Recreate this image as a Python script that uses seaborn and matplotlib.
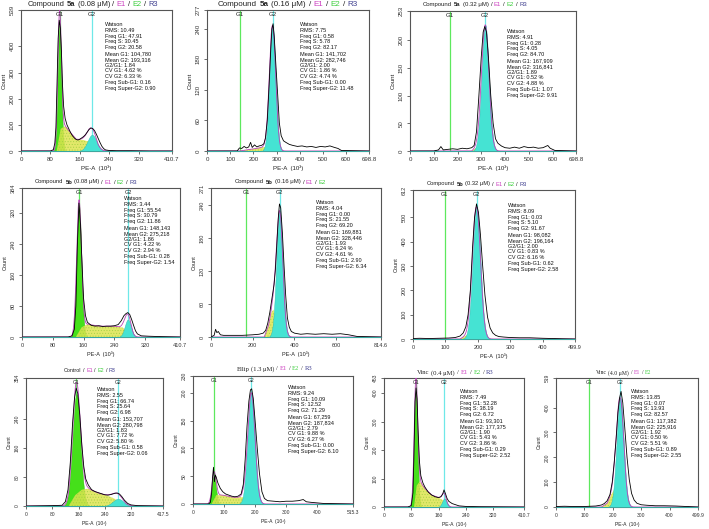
import numpy as np
import pandas as pd
import seaborn as sns
import matplotlib
matplotlib.use("Agg")
import matplotlib.pyplot as plt

# ------------------------------------------------------------------ data
title_parts = [
    [("Compound", "n"), ("5a", "b"), ("(0.08 μM)", "n"), ("/", "n"), ("E1", "e1"), ("/", "n"), ("E2", "e2"), ("/", "n"), ("R3", "r3")],
    [("Compound", "n"), ("5a", "b"), ("(0.16 μM)", "n"), ("/", "n"), ("E1", "e1"), ("/", "n"), ("E2", "e2"), ("/", "n"), ("R3", "r3")],
    [("Compound", "n"), ("5a", "b"), ("(0.32 μM)", "n"), ("/", "n"), ("E1", "e1"), ("/", "n"), ("E2", "e2"), ("/", "n"), ("R3", "r3")],
    [("Compound", "n"), ("5b", "b"), ("(0.08 μM)", "n"), ("/", "n"), ("E1", "e1"), ("/", "n"), ("E2", "e2"), ("/", "n"), ("R3", "r3")],
    [("Compound", "n"), ("5b", "b"), ("(0.16 μM)", "n"), ("/", "n"), ("E1", "e1"), ("/", "n"), ("E2", "e2")],
    [("Compound", "n"), ("5b", "b"), ("(0.32 μM)", "n"), ("/", "n"), ("E1", "e1"), ("/", "n"), ("E2", "e2"), ("/", "n"), ("R3", "r3")],
    [("Control", "n"), ("/", "n"), ("E1", "e1"), ("/", "n"), ("E2", "e2"), ("/", "n"), ("R3", "r3")],
    [("Ellip", "n"), ("(1.3 μM)", "n"), ("/", "n"), ("E1", "e1"), ("/", "n"), ("E2", "e2"), ("/", "n"), ("R3", "r3")],
    [("Vinc", "n"), ("(0.4 μM)", "n"), ("/", "n"), ("E1", "e1"), ("/", "n"), ("E2", "e2"), ("/", "n"), ("R3", "r3")],
    [("Vinc", "n"), ("(4.0 μM)", "n"), ("/", "n"), ("E1", "e1"), ("/", "n"), ("E2", "e2")],
]

x_max = [410.7, 698.8, 698.8, 410.7, 814.6, 499.9, 417.5, 515.3, 410.7, 499.9]
y_max = [539, 277, 253, 384, 271, 612, 354, 230, 453, 519]
x_ticks = [
    [0, 80, 160, 240, 320, 410.7],
    [0, 100, 200, 300, 400, 500, 600, 698.8],
    [0, 100, 200, 300, 400, 500, 600, 698.8],
    [0, 80, 160, 240, 320, 410.7],
    [0, 200, 400, 600, 814.6],
    [0, 100, 200, 300, 400, 499.9],
    [0, 80, 160, 240, 320, 417.5],
    [0, 100, 200, 300, 400, 515.3],
    [0, 80, 160, 240, 320, 410.7],
    [0, 100, 200, 300, 400, 499.9],
]
y_ticks = [
    [0, 100, 200, 300, 400, 539],
    [0, 60, 120, 180, 240, 277],
    [0, 50, 100, 150, 200, 253],
    [0, 80, 160, 240, 320, 384],
    [0, 60, 120, 180, 240, 271],
    [0, 100, 200, 300, 400, 500, 612],
    [0, 80, 160, 240, 354],
    [0, 50, 100, 150, 200, 230],
    [0, 100, 200, 300, 400, 453],
    [0, 100, 200, 300, 400, 519],
]

# Watson model statistics
rms = [10.49, 7.75, 4.91, 3.44, 4.04, 8.09, 2.55, 9.24, 7.49, 13.85]
freq_g1 = [47.91, 0.58, 0.28, 55.54, 0.00, 0.03, 66.74, 10.09, 52.28, 0.07]
freq_s = [30.45, 5.78, 4.05, 30.79, 21.55, 5.10, 25.64, 12.52, 38.19, 13.93]
freq_g2 = [20.58, 82.17, 84.70, 11.86, 69.20, 91.67, 6.98, 71.29, 6.72, 82.57]
mean_g1 = [104780, 141702, 167909, 148143, 169881, 98082, 153707, 67259, 93301, 117382]
mean_g2 = [193316, 282746, 316841, 275218, 328446, 196164, 280798, 187834, 177375, 225916]
g2_g1 = [1.84, 2.00, 1.89, 1.86, 1.93, 2.00, 1.83, 2.79, 1.90, 1.92]
cv_g1 = [4.62, 1.86, 0.52, 4.22, 6.24, 0.83, 7.72, 9.88, 5.43, 0.50]
cv_g2 = [6.33, 4.74, 4.88, 2.94, 4.61, 6.16, 5.80, 6.27, 3.86, 5.51]
freq_sub_g1 = [0.16, 0.00, 1.07, 0.28, 2.90, 0.62, 0.58, 0.00, 0.29, 0.89]
freq_super_g2 = [0.90, 11.48, 9.91, 1.54, 6.34, 2.58, 0.06, 6.10, 2.52, 2.55]
g1_peak = [480, 0, 0, 340, 0, 0, 310, 50, 405, 0]
g2_peak = [62, 245, 228, 45, 230, 540, 20, 200, 30, 440]

# measured DNA histograms (PE-A in 10^3, counts)
p1_x = [0, 80, 88, 92, 95, 98, 101, 104, 107, 110, 113, 116, 120, 125, 130, 135, 140, 145, 150, 155, 160, 165, 170, 175, 180, 185, 190, 195, 200, 205, 210, 215, 220, 225, 230, 240, 260, 300, 350, 410.7]
p1_count = [0, 0, 5, 30, 90, 260, 430, 500, 470, 380, 250, 170, 125, 100, 85, 70, 58, 50, 44, 42, 45, 50, 55, 62, 72, 82, 88, 86, 78, 64, 48, 32, 18, 9, 4, 2, 1, 1, 0, 0]
p1_s_x = [97, 108, 120, 135, 150, 170, 185, 200, 210]
p1_s_count = [0, 85, 95, 70, 45, 42, 35, 15, 0]

p2_x = [0, 130, 140, 150, 160, 170, 180, 188, 195, 205, 215, 225, 235, 245, 252, 260, 268, 275, 280, 285, 290, 297, 305, 312, 320, 330, 340, 355, 370, 390, 410, 430, 450, 470, 490, 510, 530, 550, 565, 580, 698.8]
p2_count = [0, 0, 6, 5, 9, 6, 8, 17, 7, 12, 8, 10, 11, 14, 25, 60, 130, 200, 240, 250, 225, 170, 110, 55, 30, 20, 17, 13, 11, 9, 10, 8, 9, 7, 9, 8, 10, 7, 5, 1, 0]
p2_s_x = [140, 200, 250, 270, 285]
p2_s_count = [0, 4, 8, 10, 0]

p3_x = [0, 100, 120, 130, 140, 160, 180, 200, 220, 240, 260, 270, 280, 290, 300, 308, 315, 322, 330, 340, 350, 360, 370, 385, 400, 420, 440, 460, 480, 500, 520, 540, 560, 580, 590, 610, 698.8]
p3_count = [0, 0, 2, 8, 2, 3, 4, 3, 5, 4, 6, 10, 35, 100, 170, 215, 225, 215, 170, 100, 50, 22, 14, 9, 6, 5, 7, 5, 8, 6, 7, 5, 6, 10, 5, 1, 0]
p3_s_x = [260, 285, 300, 312]
p3_s_count = [0, 8, 10, 0]

p4_x = [0, 120, 130, 136, 140, 144, 148, 152, 156, 160, 165, 170, 180, 190, 200, 210, 220, 230, 240, 250, 258, 265, 270, 275, 280, 285, 290, 295, 300, 310, 330, 360, 410.7]
p4_count = [0, 0, 3, 20, 80, 240, 345, 290, 190, 100, 55, 38, 30, 28, 29, 27, 28, 28, 29, 32, 42, 55, 60, 63, 58, 45, 30, 16, 8, 3, 2, 1, 0]
p4_s_x = [140, 155, 170, 200, 240, 262, 280, 290]
p4_s_count = [0, 25, 33, 28, 28, 24, 10, 0]

p5_x = [0, 15, 22, 28, 35, 45, 60, 100, 150, 200, 230, 250, 262, 272, 282, 290, 296, 302, 308, 315, 322, 328, 334, 342, 350, 358, 366, 375, 385, 400, 430, 460, 500, 540, 580, 620, 660, 700, 814.6]
p5_count = [0, 3, 14, 8, 10, 4, 3, 3, 3, 4, 5, 7, 12, 25, 45, 65, 80, 95, 120, 165, 215, 242, 235, 190, 130, 75, 35, 18, 10, 7, 5, 6, 5, 6, 5, 6, 4, 1, 0]
p5_s_x = [255, 275, 290, 300, 310, 322]
p5_s_count = [0, 20, 45, 50, 30, 0]

p6_x = [0, 20, 50, 80, 110, 130, 145, 155, 163, 170, 177, 184, 190, 196, 202, 208, 215, 222, 230, 238, 246, 255, 265, 280, 300, 330, 360, 400, 430, 460, 499.9]
p6_count = [2, 3, 2, 3, 4, 6, 12, 25, 50, 100, 200, 380, 500, 555, 520, 430, 300, 180, 90, 45, 25, 15, 10, 8, 6, 5, 5, 3, 2, 1, 0]
p6_s_x = [145, 165, 178, 188, 196]
p6_s_count = [0, 15, 35, 30, 0]

p7_x = [0, 80, 110, 120, 128, 135, 142, 148, 153, 158, 164, 170, 176, 182, 190, 200, 210, 220, 230, 240, 250, 260, 270, 278, 285, 292, 300, 310, 320, 340, 417.5]
p7_count = [0, 1, 2, 12, 45, 120, 230, 300, 326, 310, 250, 170, 110, 75, 58, 45, 40, 37, 34, 31, 30, 32, 35, 36, 33, 26, 16, 7, 3, 1, 0]
p7_s_x = [130, 150, 170, 190, 220, 250, 270, 290, 305]
p7_s_count = [0, 30, 45, 48, 36, 28, 20, 8, 0]

p8_x = [0, 50, 56, 60, 63, 66, 69, 72, 75, 80, 88, 96, 105, 115, 125, 135, 145, 155, 162, 168, 174, 180, 185, 189, 194, 200, 207, 214, 222, 230, 240, 260, 280, 300, 320, 340, 355, 365, 380, 400, 420, 515.3]
p8_count = [0, 0, 3, 20, 48, 66, 40, 52, 48, 38, 28, 22, 18, 16, 14, 13, 14, 18, 35, 80, 140, 185, 205, 207, 190, 150, 100, 55, 22, 10, 6, 5, 4, 5, 5, 6, 8, 4, 3, 2, 1, 0]
p8_s_x = [60, 75, 95, 130, 160, 180]
p8_s_count = [0, 16, 16, 12, 12, 0]

p9_x = [0, 70, 80, 85, 88, 91, 94, 97, 100, 104, 108, 114, 120, 130, 140, 150, 160, 167, 172, 176, 180, 185, 190, 200, 210, 220, 240, 280, 410.7]
p9_count = [0, 0, 5, 50, 190, 370, 418, 380, 270, 160, 110, 85, 70, 52, 42, 36, 33, 36, 45, 60, 48, 30, 20, 12, 8, 4, 2, 1, 0]
p9_s_x = [88, 96, 105, 120, 140, 160, 175, 185]
p9_s_count = [0, 75, 90, 65, 42, 33, 22, 0]

p10_x = [0, 30, 60, 100, 140, 160, 170, 180, 190, 198, 205, 212, 218, 224, 229, 235, 242, 250, 258, 266, 275, 285, 300, 320, 350, 380, 420, 460, 499.9]
p10_count = [2, 3, 2, 2, 4, 8, 14, 25, 50, 100, 180, 280, 380, 440, 465, 420, 320, 200, 110, 55, 28, 15, 9, 7, 5, 5, 4, 2, 0]
p10_s_x = [160, 180, 195, 205, 215, 225]
p10_s_count = [0, 15, 50, 70, 40, 0]

hist_x = [p1_x, p2_x, p3_x, p4_x, p5_x, p6_x, p7_x, p8_x, p9_x, p10_x]
hist_count = [p1_count, p2_count, p3_count, p4_count, p5_count, p6_count, p7_count, p8_count, p9_count, p10_count]
s_x = [p1_s_x, p2_s_x, p3_s_x, p4_s_x, p5_s_x, p6_s_x, p7_s_x, p8_s_x, p9_s_x, p10_s_x]
s_count = [p1_s_count, p2_s_count, p3_s_count, p4_s_count, p5_s_count, p6_s_count, p7_s_count, p8_s_count, p9_s_count, p10_s_count]

# ------------------------------------------------------------------ layout (pixels)
W, H = 709, 529
frames = [(21, 10, 172, 151), (207, 10, 369, 151), (410, 11, 576, 151),
          (22, 188, 180, 337), (211, 188, 381, 337), (413, 190, 575, 339),
          (26, 378, 163, 506), (193, 376, 353, 504), (384, 378, 524, 507), (556, 378, 698, 507)]
text_pos = [(105, 22), (300, 22), (507, 29), (124, 196), (316, 200), (508, 203),
            (97, 387), (288, 385), (460, 389), (631, 389)]
title_box = [(28, 158, 4.5), (218, 358, 4.5), (423, 527, 4.5), (35, 137, 182), (235, 326, 182),
             (427, 527, 184), (64, 116, 371), (237, 312, 369), (417, 494, 373), (596, 651, 373)]
title_serif = [False] * 7 + [True] * 3
tick_size = [4.4] * 3 + [4.0] * 3 + [3.6] * 4

GREEN = "#45e01a"
G1_LINE = "#5ee85e"
CYAN = "#45e3d3"
G2_LINE = "#6fe8e8"
YELLOW = "#dde450"
MAGENTA = "#b844b8"
role_color = {"n": "#222222", "b": "#222222", "e1": "#cc3fc0", "e2": "#3fcf3f", "r3": "#3f3f8f"}

sns.set_theme(style="ticks")
plt.rcParams["font.family"] = ["Liberation Sans", "DejaVu Sans"]
plt.rcParams["hatch.linewidth"] = 0.4

fig = plt.figure(figsize=(W / 100, H / 100), dpi=100)
fig.canvas.draw()
renderer = fig.canvas.get_renderer()


def text_width(s, size, weight, family):
    t = fig.text(0.5, 0.5, s, fontsize=size, fontweight=weight, family=family)
    w = t.get_window_extent(renderer=renderer).width
    t.remove()
    return w


# warm up font caches
for fam in (["Liberation Sans", "DejaVu Sans"], ["Liberation Serif", "DejaVu Serif"]):
    for wt in ("normal", "bold"):
        text_width("Compound 5a (0.08 μM)", 5.0, wt, fam)


def rich_title(parts, x0, x1, yc, serif):
    fam = ["Liberation Serif", "DejaVu Serif"] if serif else ["Liberation Sans", "DejaVu Sans"]
    base = 5.0
    widths = [text_width(s, base, "bold" if r == "b" else "normal", fam) for s, r in parts]
    sp = text_width("a a", base, "normal", fam) - text_width("aa", base, "normal", fam)
    total = sum(widths) + sp * (len(parts) - 1)
    k = (x1 - x0) / total
    size = base * k
    x = x0
    for (s, r), w in zip(parts, widths):
        fig.text(x / W, 1 - yc / H, s, fontsize=size, fontweight="bold" if r == "b" else "normal",
                 family=fam, color=role_color[r], ha="left", va="center")
        x += (w + sp) * k


def fmt_tick(v):
    return "{:g}".format(v)


for i in range(10):
    l, t, r, b = frames[i]
    ax = fig.add_axes([l / W, 1 - b / H, (r - l) / W, (b - t) / H])
    ax.set_xlim(0, x_max[i])
    ax.set_ylim(0, y_max[i])

    xs = np.linspace(0, x_max[i], 900)
    m1 = mean_g1[i] / 1000.0
    m2 = mean_g2[i] / 1000.0
    sd1 = m1 * cv_g1[i] / 100.0
    sd2 = m2 * cv_g2[i] / 100.0
    g1 = g1_peak[i] * np.exp(-0.5 * ((xs - m1) / sd1) ** 2)
    g2 = g2_peak[i] * np.exp(-0.5 * ((xs - m2) / sd2) ** 2)
    sph = np.interp(xs, s_x[i], s_count[i], left=0, right=0)

    ax.axvline(m1, color=G1_LINE, lw=0.9, zorder=1)
    ax.axvline(m2, color=G2_LINE, lw=0.9, zorder=1)
    if g1_peak[i] > 0:
        ax.fill_between(xs, 0, g1, color=GREEN, lw=0.3, edgecolor="#2fb010", zorder=2)
    ax.fill_between(s_x[i], 0, s_count[i], facecolor=YELLOW, edgecolor="#9fd040",
                    hatch="......", lw=0, alpha=0.85, zorder=3)
    ax.fill_between(xs, 0, g2, color=CYAN, lw=0.3, edgecolor="#30b8b0", zorder=4)

    model = pd.DataFrame({"x": xs, "count": g1 + g2 + sph})
    sns.lineplot(data=model, x="x", y="count", ax=ax, color=MAGENTA, lw=0.6, zorder=5)
    data = pd.DataFrame({"x": hist_x[i], "count": hist_count[i]})
    sns.lineplot(data=data, x="x", y="count", ax=ax, color="black", lw=0.6, zorder=6)

    ts = tick_size[i]
    ax.text(m1, y_max[i] * 0.985, "G1", ha="center", va="top", fontsize=ts, color="#222", zorder=7)
    ax.text(m2, y_max[i] * 0.985, "G2", ha="center", va="top", fontsize=ts, color="#222", zorder=7)

    ax.set_xticks(x_ticks[i])
    ax.set_xticklabels([fmt_tick(v) for v in x_ticks[i]])
    ax.set_yticks(y_ticks[i])
    ax.set_yticklabels([fmt_tick(v) for v in y_ticks[i]], rotation=90, va="center")
    ax.tick_params(axis="both", direction="out", length=2, width=0.5, pad=2.5,
                   labelsize=ts, colors="#333333")
    ax.set_xlabel("PE-A  (10³)", fontsize=ts, labelpad=2.5, color="#222")
    ax.set_ylabel("Count", fontsize=ts, labelpad=2, color="#222")
    for sp in ax.spines.values():
        sp.set_visible(True)
        sp.set_color("#555555")
        sp.set_linewidth(0.8)

    lines = ["Watson",
             f"RMS: {rms[i]:.2f}",
             f"Freq G1: {freq_g1[i]:.2f}",
             f"Freq S: {freq_s[i]:.2f}",
             f"Freq G2: {freq_g2[i]:.2f}",
             f"Mean G1: {mean_g1[i]:,}",
             f"Mean G2: {mean_g2[i]:,}",
             f"G2/G1: {g2_g1[i]:.2f}",
             f"CV G1: {cv_g1[i]:.2f} %",
             f"CV G2: {cv_g2[i]:.2f} %",
             f"Freq Sub-G1: {freq_sub_g1[i]:.2f}",
             f"Freq Super-G2: {freq_super_g2[i]:.2f}"]
    tx, ty = text_pos[i]
    fig.text(tx / W, 1 - ty / H, "\n".join(lines), fontsize=4.0, ha="left", va="top",
             linespacing=1.2, color="#111111")

    x0, x1, yc = title_box[i]
    rich_title(title_parts[i], x0, x1, yc, title_serif[i])

fig.savefig("out.png", dpi=100)
